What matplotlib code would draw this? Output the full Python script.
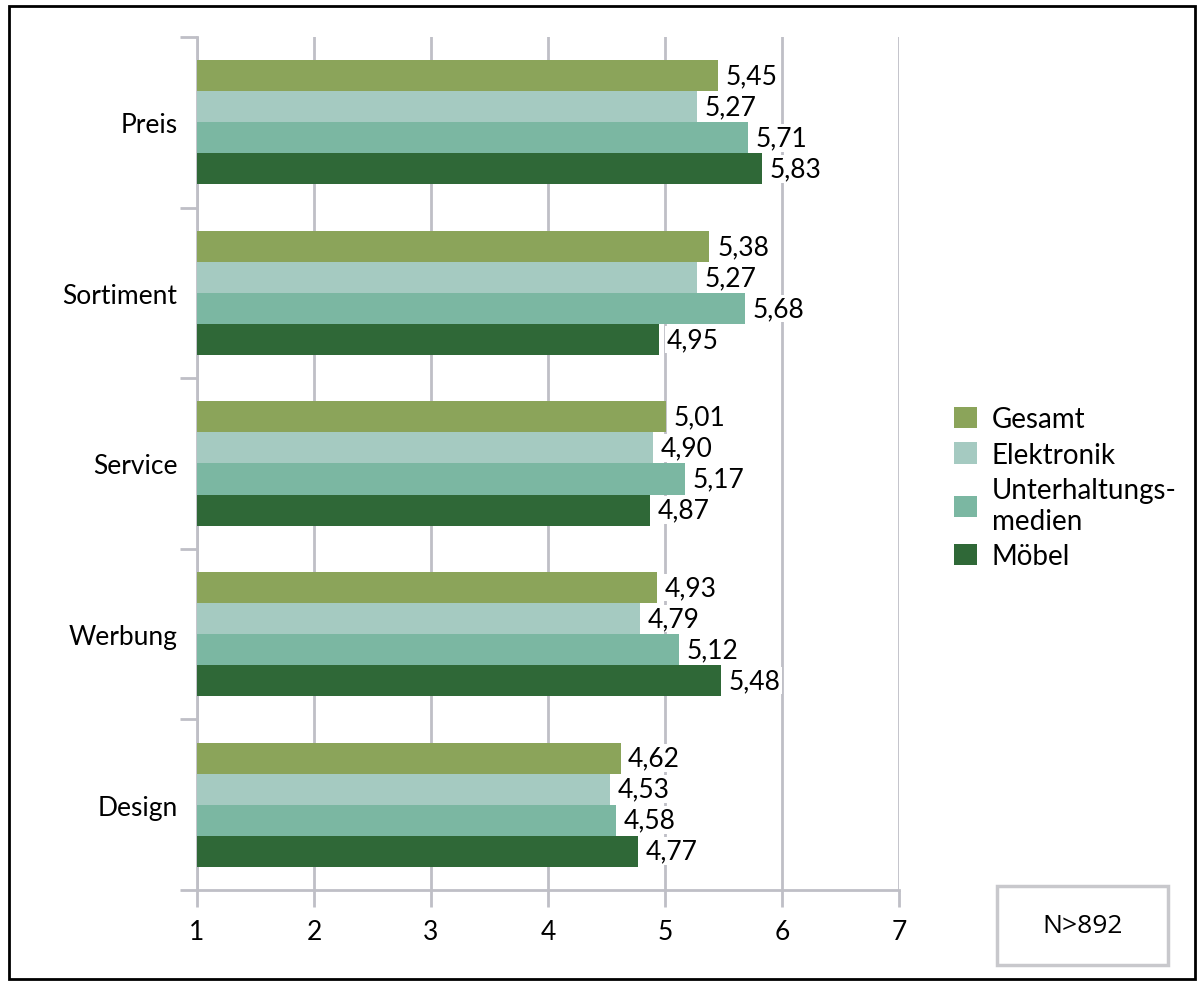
import matplotlib.pyplot as plt
import numpy as np
from matplotlib.patches import Rectangle

plt.rcParams["font.family"] = ["Lato", "DejaVu Sans"]

CATEGORIES = ["Preis", "Sortiment", "Service", "Werbung", "Design"]
SERIES = ["Gesamt", "Elektronik", "Unterhaltungs-\nmedien", "Möbel"]
GESAMT = [5.45, 5.38, 5.01, 4.93, 4.62]
ELEKTRONIK = [5.27, 5.27, 4.90, 4.79, 4.53]
UNTERHALTUNG = [5.71, 5.68, 5.17, 5.12, 4.58]
MOEBEL = [5.83, 4.95, 4.87, 5.48, 4.77]
X_TICKS = [1, 2, 3, 4, 5, 6, 7]

COLORS = ["#8BA45A", "#A5CAC1", "#7BB7A2", "#2F6837"]
GRID = "#BFBFC6"

fig = plt.figure(figsize=(12.04, 9.87), dpi=100)
ax = fig.add_axes([0.1636, 0.0973, 0.5831, 0.8642])

values = [GESAMT, ELEKTRONIK, UNTERHALTUNG, MOEBEL]
y = np.arange(len(CATEGORIES))
h = 0.182
handles = []
for k, (vals, color, name) in enumerate(zip(values, COLORS, SERIES)):
    pos = y + (k - 1.5) * h
    bars = ax.barh(pos, np.array(vals) - 1, left=1, height=h, color=color, label=name, zorder=3)
    handles.append(bars)
    for p, v in zip(pos, vals):
        ax.text(v + 0.065, p, f"{v:.2f}".replace(".", ","), va="center", ha="left",
                fontsize=19, zorder=4,
                bbox=dict(facecolor="white", edgecolor="none", pad=1.0))

ax.set_xlim(1, 7)
ax.set_ylim(4.5, -0.5)
ax.set_xticks(X_TICKS)
ax.set_xticklabels([str(t) for t in X_TICKS], fontsize=19)
ax.set_yticks(np.arange(-0.5, 5.0, 1.0))
ax.set_yticklabels([])
ax.set_yticks(y, minor=True)
ax.set_yticklabels(CATEGORIES, minor=True, fontsize=19)
ax.tick_params(axis="y", which="minor", length=0, pad=14)
ax.tick_params(axis="y", which="major", length=12, width=2, color=GRID)
ax.tick_params(axis="x", length=12, width=2, color=GRID, pad=9)
ax.grid(axis="x", color=GRID, linewidth=2, zorder=0)
for side in ["top", "right"]:
    ax.spines[side].set_visible(False)
for side in ["left", "bottom"]:
    ax.spines[side].set_color(GRID)
    ax.spines[side].set_linewidth(2)

fig.legend(handles=handles, labels=SERIES, loc="center left", bbox_to_anchor=(0.772, 0.505),
           frameon=False, fontsize=20, handlelength=0.8, handleheight=0.8,
           handletextpad=0.55, labelspacing=0.35)

fig.text(0.8993, 0.0610, "N>892", ha="center", va="center", fontsize=19,
         family=["Open Sans", "DejaVu Sans"])
fig.patches.append(Rectangle((0.8277, 0.0213), 0.1428, 0.0800, transform=fig.transFigure,
                             facecolor="none", edgecolor="#C8C8CC", linewidth=2.5))
fig.patches.append(Rectangle((0.0075, 0.0075), 0.985, 0.985, transform=fig.transFigure,
                             facecolor="none", edgecolor="black", linewidth=2))

fig.savefig("out.png", dpi=100)
